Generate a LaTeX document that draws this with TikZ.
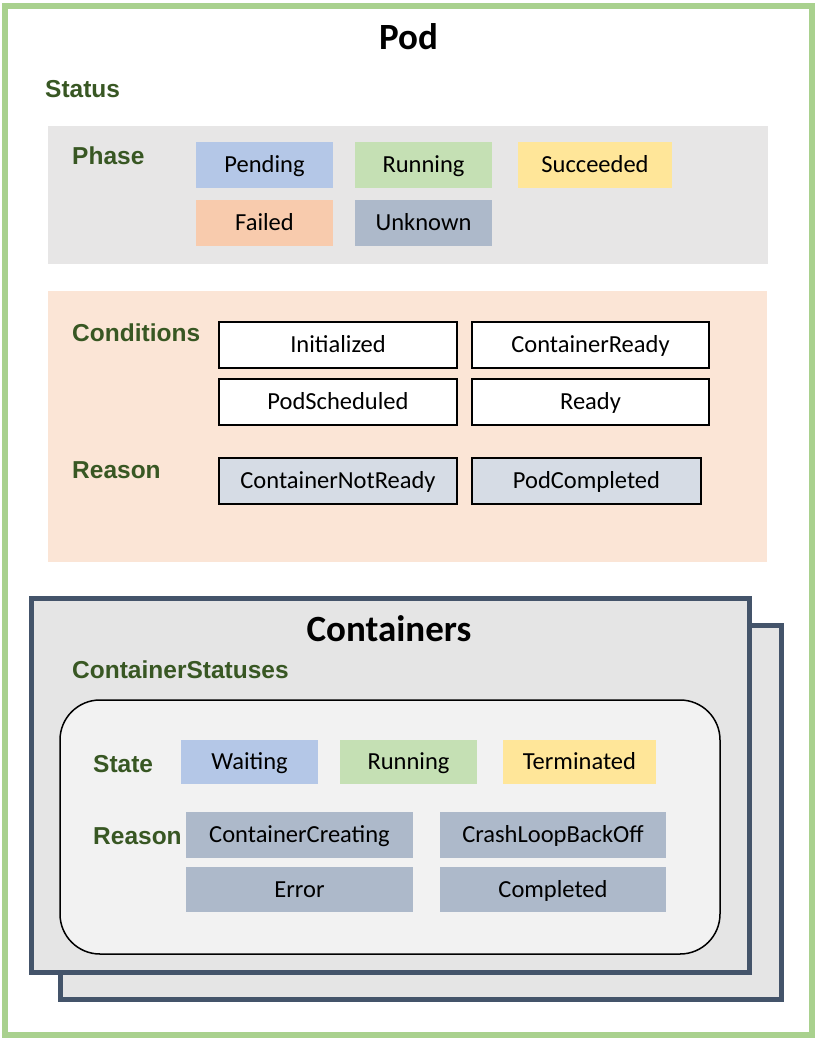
\documentclass[tikz,border=0pt]{standalone}
\usepackage{fontspec}
\setmainfont{Carlito}
\newfontfamily\labfont{Liberation Sans}
\definecolor{podgreen}{HTML}{A9D18E}
\definecolor{labgreen}{HTML}{385723}
\definecolor{phasegray}{HTML}{E7E6E6}
\definecolor{condpeach}{HTML}{FBE5D6}
\definecolor{contborder}{HTML}{44546A}
\definecolor{contfill}{HTML}{E5E5E5}
\definecolor{innerfill}{HTML}{F2F2F2}
\definecolor{cblue}{HTML}{B4C7E7}
\definecolor{cgreen}{HTML}{C5E0B4}
\definecolor{cyellow}{HTML}{FFE699}
\definecolor{corange}{HTML}{F8CBAD}
\definecolor{cslate}{HTML}{ADB9CA}
\definecolor{clight}{HTML}{D6DCE5}
\begin{document}
\begin{tikzpicture}[x=1pt,y=-1pt,
  lab/.style={anchor=base west, inner sep=0pt, font=\labfont\bfseries\fontsize{24.5}{26}\selectfont, text=labgreen},
  ttl/.style={anchor=base, inner sep=0pt, font=\bfseries\fontsize{37}{40}\selectfont},
  tag/.style={anchor=north west, inner sep=0pt, outer sep=0pt, font=\fontsize{24.5}{26}\selectfont, text height=15.8pt, text depth=0pt},
  wbox/.style={tag, draw=black, line width=2.5pt, fill=white},
  area/.style={draw=none}
]
\useasboundingbox (0,0) rectangle (816,1039);
% Pod border
\draw[podgreen, line width=5.5pt] (5,6) rectangle (812,1035);
\node[ttl] (pod) at (408.5,49) {Pod};
\node[lab] (status) at (45,97) {Status};
% Phase area
\fill[phasegray] (48,126) rectangle (768,264);
\node[lab] (phase) at (72,164) {Phase};
\node[tag, fill=cblue, minimum width=137pt, minimum height=46pt] (pending) at (196,142) {Pending};
\node[tag, fill=cgreen, minimum width=137pt, minimum height=46pt] (running) at (355,142) {Running};
\node[tag, fill=cyellow, minimum width=154pt, minimum height=46pt] (succeeded) at (518,142) {Succeeded};
\node[tag, fill=corange, minimum width=137pt, minimum height=46pt] (failed) at (196,200) {Failed};
\node[tag, fill=cslate, minimum width=137pt, minimum height=46pt] (unknown) at (355,200) {Unknown};
% Conditions area
\fill[condpeach] (48,291) rectangle (767,562);
\node[lab] (conditions) at (72,341) {Conditions};
\node[lab] (reason1) at (72,478) {Reason};
\node[wbox, minimum width=238pt, minimum height=46pt] (initialized) at (219,322) {Initialized};
\node[wbox, minimum width=237pt, minimum height=46pt] (cready) at (472,322) {ContainerReady};
\node[wbox, minimum width=238pt, minimum height=46pt] (podsched) at (219,379) {PodScheduled};
\node[wbox, minimum width=237pt, minimum height=46pt] (ready) at (472,379) {Ready};
\node[wbox, fill=clight, minimum width=238pt, minimum height=46pt] (cnotready) at (219,458) {ContainerNotReady};
\node[wbox, fill=clight, minimum width=229pt, minimum height=46pt] (podcompleted) at (472,458) {PodCompleted};
% Containers
\draw[contborder, fill=contfill, line width=5pt] (60,625) rectangle (781,999);
\draw[contborder, fill=contfill, line width=5pt] (31,598) rectangle (749,972);
\node[ttl] (containers) at (389,641) {Containers};
\node[lab] (cstatuses) at (72,678) {ContainerStatuses};
\draw[black, fill=innerfill, line width=1.5pt, rounded corners=40pt] (60,700) rectangle (720,954);
\node[lab] (state) at (93,772) {State};
\node[lab] (reason2) at (93,844) {Reason};
\node[tag, fill=cblue, minimum width=137pt, minimum height=44pt] (waiting) at (181,740) {Waiting};
\node[tag, fill=cgreen, minimum width=137pt, minimum height=44pt] (crunning) at (340,740) {Running};
\node[tag, fill=cyellow, minimum width=153pt, minimum height=44pt] (terminated) at (503,740) {Terminated};
\node[tag, fill=cslate, minimum width=227pt, minimum height=46pt] (ccreating) at (186,812) {ContainerCreating};
\node[tag, fill=cslate, minimum width=226pt, minimum height=46pt] (crashloop) at (440,812) {CrashLoopBackOff};
\node[tag, fill=cslate, minimum width=227pt, minimum height=45pt] (error) at (186,867) {Error};
\node[tag, fill=cslate, minimum width=226pt, minimum height=45pt] (completed) at (440,867) {Completed};
\end{tikzpicture}
\end{document}
